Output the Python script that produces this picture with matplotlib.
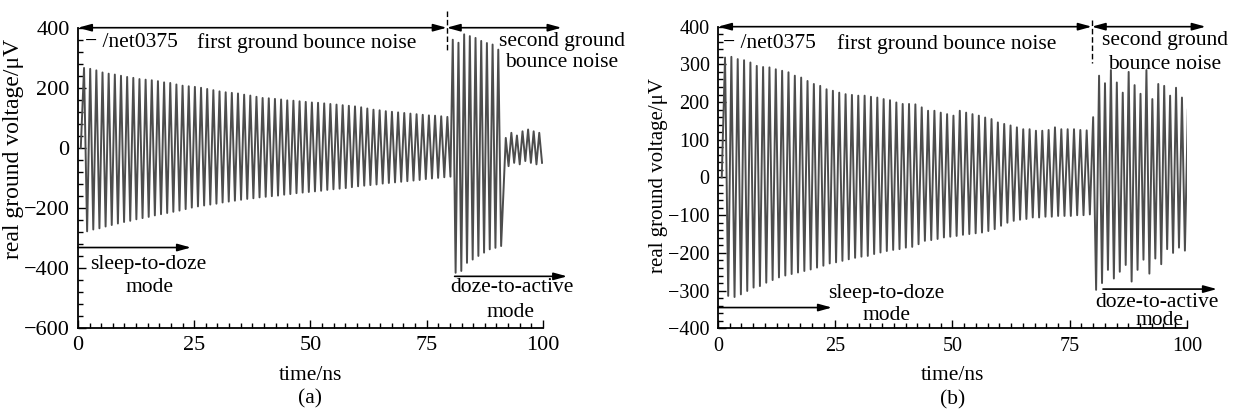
import numpy as np
import matplotlib
matplotlib.use('Agg')
import matplotlib.pyplot as plt
from matplotlib.ticker import MultipleLocator

plt.rcParams['font.family'] = ['Liberation Serif', 'DejaVu Serif']

# ---- panel (a): peak values (uV) ----
a_top_1 = [266, 263, 258, 251, 247, 244, 240, 236, 233, 229, 227, 225, 222, 218, 216,
           211, 207, 205, 203, 200, 196, 192, 188, 185, 183, 181, 177, 174, 170, 166,
           165, 163, 161, 158, 157, 155, 153, 151, 150, 148, 146, 144, 142, 140, 138,
           135, 131, 127, 125, 122, 120, 118, 116, 114, 112, 110, 108, 107, 105, 103]
a_bot_1 = [-278, -272, -268, -262, -257, -252, -247, -243, -238, -234, -230, -225, -221,
           -217, -213, -209, -204, -199, -195, -192, -189, -186, -182, -179, -176, -173,
           -170, -168, -165, -163, -161, -159, -156, -154, -151, -149, -147, -145, -143,
           -140, -138, -136, -134, -131, -128, -126, -124, -122, -119, -117, -115, -113,
           -111, -109, -107, -104, -102, -100, -98, -96]
a_top_2 = [360, 350, 378, 372, 366, 356, 349, 344, 327]
a_bot_2 = [-416, -410, -383, -372, -360, -349, -338, -333, -327]
a_top_3 = [33, 50, 41, 55, 61, 55, 50]
a_bot_3 = [-61, -50, -55, -44, -50, -55, -50]
a_spans = [(1.3, 80.1), (80.6, 91.0), (92.0, 99.8)]

# ---- panel (b) ----
b_top_1 = [318, 320, 314, 311, 305, 296, 293, 292, 287, 283, 279, 270, 265, 256, 248,
           243, 234, 230, 225, 221, 219, 217, 217, 214, 212, 208, 205, 199, 195, 195,
           194, 186, 177, 177, 172, 168, 164, 177, 172, 168, 164, 159, 155, 146, 142,
           138, 133, 128, 128, 124, 124, 126, 133, 128, 128, 128, 126, 125]
b_bot_1 = [-314, -317, -310, -301, -292, -288, -279, -272, -265, -260, -256, -252, -248,
           -244, -239, -234, -228, -225, -221, -217, -213, -210, -208, -203, -199, -195,
           -192, -190, -186, -184, -177, -168, -166, -163, -159, -157, -155, -152, -150,
           -148, -146, -142, -137, -128, -120, -115, -112, -110, -106, -106, -104, -104,
           -102, -102, -102, -100, -100, -98]
b_top_2 = [160, 270, 250, 285, 252, 225, 280, 245, 222, 285, 208, 248, 243, 217, 238, 212, 180]
b_bot_2 = [-298, -280, -245, -268, -250, -232, -276, -245, -218, -255, -215, -230, -190,
           -200, -186, -194]
b_spans = [(1.5, 79.3), (80.0, 100.2)]


def zigzag(tops, bots, t0, t1):
    vals = np.empty(len(tops) + len(bots))
    vals[0::2] = tops
    vals[1::2] = bots
    return np.linspace(t0, t1, len(vals)), vals


def trace(segments, spans, t_start):
    ts, vs = [t_start], [0.0]
    for (tops, bots), (t0, t1) in zip(segments, spans):
        t, v = zigzag(tops, bots, t0, t1)
        ts.extend(t)
        vs.extend(v)
    return np.array(ts), np.array(vs)


def arrow(ax, x0, x1, y, style='-|>'):
    ax.annotate('', xy=(x1, y), xytext=(x0, y), annotation_clip=False,
                arrowprops=dict(arrowstyle=style + ',head_length=0.8,head_width=0.22',
                                color='k', lw=1.2, shrinkA=0, shrinkB=0))


def setup(ax, ylim, major, minor, tick_fs, ylab_fs, ylab_pos):
    ax.set_xlim(0, 100)
    ax.set_ylim(*ylim)
    for s in ['top', 'right']:
        ax.spines[s].set_visible(False)
    for s in ['left', 'bottom']:
        ax.spines[s].set_linewidth(1.3)
    ax.xaxis.set_major_locator(MultipleLocator(25))
    ax.xaxis.set_minor_locator(MultipleLocator(2.5))
    ax.yaxis.set_major_locator(MultipleLocator(major))
    ax.yaxis.set_minor_locator(MultipleLocator(minor))
    ax.tick_params(which='both', direction='in', top=False, right=False, width=1)
    ax.tick_params(which='major', length=6, labelsize=tick_fs, pad=6)
    ax.tick_params(which='minor', length=3.5)
    ax.text(ylab_pos[0], ylab_pos[1], 'real ground voltage/μV', rotation=90,
            transform=ax.transAxes, ha='center', va='center', fontsize=ylab_fs)
    ax.text(0.5, -0.157, 'time/ns', transform=ax.transAxes, ha='center', va='center',
            fontsize=15.5)


fig = plt.figure(figsize=(12.36, 4.13), dpi=100)
ax1 = fig.add_axes([0.0631, 0.2058, 0.3762, 0.7271])
ax2 = fig.add_axes([0.5809, 0.2051, 0.3794, 0.7303])

fs = 15.5
wave_kw = dict(color='#4d4d4d', lw=1.4)

# panel (a)
t, v = trace([(a_top_1, a_bot_1), (a_top_2, a_bot_2), (a_top_3, a_bot_3)], a_spans, 0.6)
ax1.plot(t, v, **wave_kw)
setup(ax1, (-600, 400), 200, 40, 16, 17, (-0.138, 0.597))
arrow(ax1, 0, 79.3, 400, '<|-|>')
arrow(ax1, 79.3, 104, 400, '<|-|>')
ax1.plot([79.3, 79.3], [455, 327], color='k', lw=1, ls=(0, (4, 2)), clip_on=False)
ax1.text(1.5, 350, '− /net0375', fontsize=fs, va='center')
ax1.text(25.6, 350, 'first ground bounce noise', fontsize=fs, va='center')
ax1.text(90.5, 354, 'second ground', fontsize=fs, va='center')
ax1.text(91.8, 284, 'bounce noise', fontsize=fs, va='center')
arrow(ax1, 0, 24.3, -332)
ax1.text(15.2, -389, 'sleep-to-doze', fontsize=fs, ha='center', va='center')
ax1.text(15.4, -466, 'mode', fontsize=fs, ha='center', va='center')
arrow(ax1, 81, 105.2, -428)
ax1.text(93.3, -466, 'doze-to-active', fontsize=fs, ha='center', va='center')
ax1.text(93.0, -550, 'mode', fontsize=fs, ha='center', va='center')
ax1.text(0.5, -0.237, '(a)', transform=ax1.transAxes, ha='center', va='center', fontsize=fs)

# panel (b)
t, v = trace([(b_top_1, b_bot_1), (b_top_2, b_bot_2)], b_spans, 0.8)
ax2.plot(t, v, **wave_kw)
setup(ax2, (-400, 400), 100, 20, 14.5, 15, (-0.126, 0.508))
arrow(ax2, 0, 79.7, 400, '<|-|>')
arrow(ax2, 79.7, 104, 400, '<|-|>')
ax2.plot([79.7, 79.7], [417, 303], color='k', lw=1, ls=(0, (4, 2)), clip_on=False)
ax2.text(1.1, 355, '− /net0375', fontsize=fs, va='center')
ax2.text(25.4, 355, 'first ground bounce noise', fontsize=fs, va='center')
ax2.text(95.3, 363, 'second ground', fontsize=fs, ha='center', va='center')
ax2.text(95.3, 301, 'bounce noise', fontsize=fs, ha='center', va='center')
arrow(ax2, 0, 24.3, -345)
ax2.text(35.9, -309, 'sleep-to-doze', fontsize=fs, ha='center', va='center')
ax2.text(36.0, -367, 'mode', fontsize=fs, ha='center', va='center')
arrow(ax2, 82.1, 106.4, -296)
ax2.text(93.7, -331, 'doze-to-active', fontsize=fs, ha='center', va='center')
ax2.text(94.2, -380, 'mode', fontsize=fs, ha='center', va='center')
ax2.text(0.5, -0.237, '(b)', transform=ax2.transAxes, ha='center', va='center', fontsize=fs)

fig.savefig('out.png', dpi=100)
